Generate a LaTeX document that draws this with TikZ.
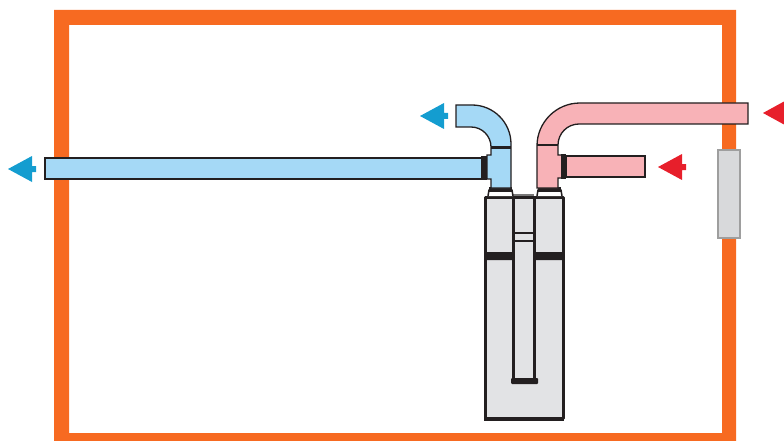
\documentclass[tikz,border=0pt]{standalone}
\usepackage{tikz}
\definecolor{wallorange}{HTML}{F76A21}
\definecolor{coldduct}{HTML}{A5D9F6}
\definecolor{warmduct}{HTML}{F8B2B7}
\definecolor{unitgrey}{HTML}{E2E3E5}
\definecolor{ventgrey}{HTML}{D8D9DB}
\definecolor{ventedge}{HTML}{9E9E9E}
\definecolor{linedark}{HTML}{231F20}
\definecolor{flowblue}{HTML}{149DD0}
\definecolor{flowred}{HTML}{E71F2B}
\tikzset{
  duct/.style={draw=linedark, line width=1.3pt, line join=miter},
  cold/.style={duct, fill=coldduct},
  warm/.style={duct, fill=warmduct},
  collar/.style={fill=linedark},
  unitwall/.style={draw=linedark, line width=3pt, line join=round},
}

\begin{document}
\begin{tikzpicture}[x=1pt, y=-1pt]
    \useasboundingbox (0,0) rectangle (784,441);
    % building
    \fill[wallorange, even odd rule] (54,10) rectangle (736,441) (69,25) rectangle (722,433);
    \draw[fill=ventgrey, draw=ventedge, line width=1.3pt] (718,150) rectangle (740,238);
    % unit
    \fill[unitgrey] (485,197) rectangle (563,419);
    \draw[line width=1.3pt, draw=ventedge!70!linedark] (513,195) -- (534,195);
    \draw[unitwall, line cap=round] (485,197) -- (485,418) -- (563,418) -- (563,197) -- cycle;
    \draw[unitwall] (513,197) -- (513,381) (534,197) -- (534,381);
    \draw[line width=2.5pt, draw=linedark] (513,233) -- (534,233) (513,241) -- (534,241);
    \fill[collar] (484,252) rectangle (513,260) (534,252) rectangle (564,260);
    \fill[collar, rounded corners=1pt] (511,378) rectangle (538,384);
    \fill[collar] (484,418) rectangle (564,420.5);
    \foreach \cx in {488,537} {
      \draw[linedark, line width=1.5pt, fill=white] (\cx,196) -- (\cx+1,190) -- (\cx+24,190) -- (\cx+25,196);
      \fill[collar] (\cx+1,187) rectangle (\cx+24,192);
    }
    % cold side
    \draw[cold] (45,158) rectangle (482,179);
    \draw[cold] (456,105) -- (472,105) arc[start angle=-90, end angle=0, radius=39] -- (511,188)
      -- (491,188) -- (491,179) -- (487,179) -- (487,155) -- (491,155) -- (491,147)
      arc[start angle=0, end angle=-90, radius=20] -- (456,127) -- cycle;
    \fill[collar] (491,146) rectangle (511,149);
    \fill[collar] (481,156) rectangle (487,180);
    % warm side
    \draw[warm] (566,156) rectangle (645,177);
    \draw[warm] (748,103) -- (580,103) arc[start angle=-90, end angle=-180, radius=43] -- (537,188)
      -- (558,188) -- (558,178) -- (563,178) -- (563,155) -- (558,155) -- (558,145)
      arc[start angle=180, end angle=270, radius=21] -- (748,124) -- cycle;
    \fill[collar] (537,143.5) rectangle (558,145.5);
    \fill[collar] (561,154) rectangle (566,179);
    % flow arrows
    \foreach \tipx/\tipy/\flowcol in {8/169/flowblue, 420/116/flowblue, 658/167/flowred} {
      \fill[\flowcol] (\tipx,\tipy) -- (\tipx+24,\tipy-13) -- (\tipx+24,\tipy-3) -- (\tipx+28,\tipy-3)
        -- (\tipx+28,\tipy+3) -- (\tipx+24,\tipy+3) -- (\tipx+24,\tipy+13) -- cycle;
    }
    \fill[flowred] (763,113) -- (784,101.5) -- (784,124.5) -- cycle;
  \end{tikzpicture}
\end{document}
